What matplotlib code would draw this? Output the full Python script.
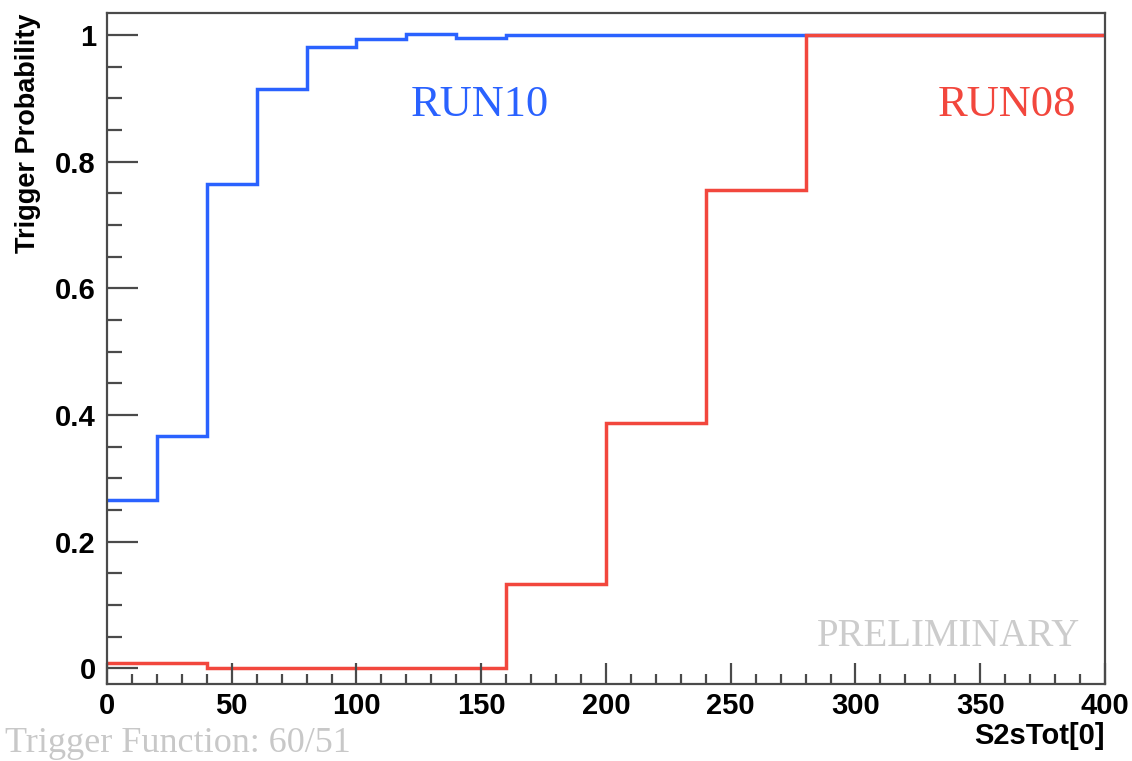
import numpy as np
import matplotlib
matplotlib.use("Agg")
import matplotlib.pyplot as plt
from matplotlib.ticker import MultipleLocator
from matplotlib.font_manager import FontProperties

# Bin edges (S2sTot[0]) and trigger probability per bin
bin_edges = [0, 20, 40, 60, 80, 100, 120, 140, 160, 180, 200, 220, 240, 260, 280,
             300, 320, 340, 360, 380, 400]
run10_prob = [0.265, 0.367, 0.765, 0.915, 0.981, 0.994, 1.002, 0.996, 1.0, 1.0,
              1.0, 1.0, 1.0, 1.0, 1.0, 1.0, 1.0, 1.0, 1.0, 1.0]
run08_prob = [0.008, 0.008, 0.0, 0.0, 0.0, 0.0, 0.0, 0.0, 0.133, 0.133,
              0.387, 0.387, 0.755, 0.755, 1.0, 1.0, 1.0, 1.0, 1.0, 1.0]

blue = "#2a62ff"
red = "#f2473d"
axis_grey = "#4a4a4a"

fig = plt.figure(figsize=(11.32, 7.61), dpi=100)
ax = fig.add_axes([0.0945, 0.1012, 0.8816, 0.8817])

ax.stairs(run10_prob, bin_edges, color=blue, linewidth=2.5, baseline=None)
ax.stairs(run08_prob, bin_edges, color=red, linewidth=2.5, baseline=None)

ax.set_xlim(0, 400)
ax.set_ylim(-0.025, 1.035)

ax.xaxis.set_major_locator(MultipleLocator(50))
ax.xaxis.set_minor_locator(MultipleLocator(10))
ax.yaxis.set_major_locator(MultipleLocator(0.2))
ax.yaxis.set_minor_locator(MultipleLocator(0.05))
ax.yaxis.set_major_formatter(plt.FuncFormatter(lambda v, p: f"{v:g}"))

tick_fp = FontProperties(family="Liberation Sans", weight="bold", size=21)
ax.tick_params(which="both", direction="in", top=False, right=False,
               color=axis_grey, width=1.6)
ax.tick_params(axis="x", which="major", length=15, pad=6)
ax.tick_params(axis="x", which="minor", length=7.5)
ax.tick_params(axis="y", which="major", length=22, pad=8)
ax.tick_params(axis="y", which="minor", length=11)
for lab in ax.get_xticklabels() + ax.get_yticklabels():
    lab.set_fontproperties(tick_fp)

for sp in ax.spines.values():
    sp.set_color(axis_grey)
    sp.set_linewidth(1.6)

ax.set_ylabel("Trigger Probability",
              fontproperties=FontProperties(family="Liberation Sans",
                                            weight="bold", size=19.5),
              loc="top", labelpad=10)
ax.set_xlabel("S2sTot[0]", fontproperties=tick_fp, loc="right", labelpad=1)

serif = "Liberation Serif"
ax.text(149.5, 0.889, "RUN10", color=blue, family=serif, fontsize=32,
        ha="center", va="center")
ax.text(360.7, 0.889, "RUN08", color=red, family=serif, fontsize=32,
        ha="center", va="center")
ax.text(390, 0.05, "PRELIMINARY", color="#cccccc", family=serif, fontsize=28,
        ha="right", va="center")
fig.text(0.004, 0.012, "Trigger Function: 60/51", color="#c8c8c8", family=serif,
         fontsize=26, ha="left", va="baseline")

fig.savefig("out.png", dpi=100)
